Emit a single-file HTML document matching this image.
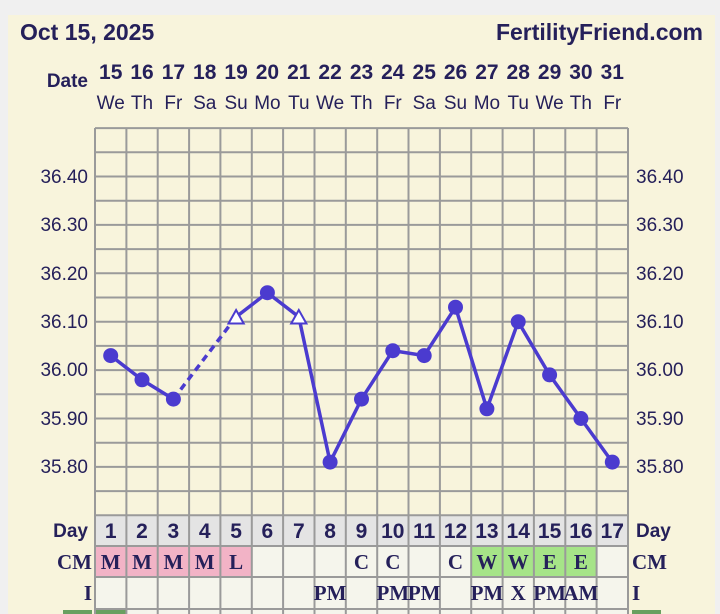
<!DOCTYPE html>
<html><head><meta charset="utf-8"><style>
html,body{margin:0;padding:0;background:#f0f0f0;width:720px;height:614px;overflow:hidden}
svg{display:block}
text{fill:#25205a;font-family:"Liberation Sans",sans-serif}
.s{font-family:"Liberation Serif",serif;font-weight:bold;font-size:21px}
</style></head><body>
<svg width="720" height="614" xmlns="http://www.w3.org/2000/svg">
<rect x="8" y="15" width="707" height="600" fill="#f8f4dc"/>
<text x="20" y="40" font-size="23" font-weight="bold">Oct 15, 2025</text>
<text x="703" y="40" font-size="23" font-weight="bold" text-anchor="end">FertilityFriend.com</text>
<text x="88" y="87" font-size="19" font-weight="bold" text-anchor="end">Date</text>
<g font-size="21" font-weight="bold" text-anchor="middle">
<text x="110.7" y="79">15</text><text x="142" y="79">16</text><text x="173.4" y="79">17</text><text x="204.7" y="79">18</text><text x="236.1" y="79">19</text><text x="267.4" y="79">20</text><text x="298.8" y="79">21</text><text x="330.1" y="79">22</text><text x="361.5" y="79">23</text><text x="392.8" y="79">24</text><text x="424.2" y="79">25</text><text x="455.5" y="79">26</text><text x="486.9" y="79">27</text><text x="518.2" y="79">28</text><text x="549.6" y="79">29</text><text x="580.9" y="79">30</text><text x="612.3" y="79">31</text>
</g>
<g font-size="19" text-anchor="middle">
<text x="110.7" y="109">We</text><text x="142" y="109">Th</text><text x="173.4" y="109">Fr</text><text x="204.7" y="109">Sa</text><text x="236.1" y="109">Su</text><text x="267.4" y="109">Mo</text><text x="298.8" y="109">Tu</text><text x="330.1" y="109">We</text><text x="361.5" y="109">Th</text><text x="392.8" y="109">Fr</text><text x="424.2" y="109">Sa</text><text x="455.5" y="109">Su</text><text x="486.9" y="109">Mo</text><text x="518.2" y="109">Tu</text><text x="549.6" y="109">We</text><text x="580.9" y="109">Th</text><text x="612.3" y="109">Fr</text>
</g>
<g font-size="19">
<g text-anchor="end">
<text x="88" y="183">36.40</text><text x="88" y="231">36.30</text><text x="88" y="280">36.20</text><text x="88" y="328">36.10</text><text x="88" y="376">36.00</text><text x="88" y="425">35.90</text><text x="88" y="473">35.80</text>
</g>
<text x="636" y="183">36.40</text><text x="636" y="231">36.30</text><text x="636" y="280">36.20</text><text x="636" y="328">36.10</text><text x="636" y="376">36.00</text><text x="636" y="425">35.90</text><text x="636" y="473">35.80</text>
</g>
<rect x="95" y="515" width="533" height="31" fill="#e4e4e4"/>
<rect x="95" y="546" width="533" height="68" fill="#f5f5ec"/>
<rect x="95" y="546" width="156.8" height="31" fill="#f2b3c6"/>
<rect x="471.2" y="546" width="125.4" height="31" fill="#a6e488"/>
<rect x="95" y="609" width="31" height="6" fill="#6aa060"/>
<rect x="63" y="610" width="29" height="5" fill="#6aa060"/>
<rect x="632" y="610" width="29" height="5" fill="#6aa060"/>
<g stroke="#9a9a9a" stroke-width="2">
<path d="M95 128.1H628M95 152.3H628M95 176.5H628M95 200.7H628M95 224.9H628M95 249.1H628M95 273.3H628M95 297.5H628M95 321.7H628M95 345.9H628M95 370.1H628M95 394.3H628M95 418.5H628M95 442.7H628M95 466.9H628M95 491.1H628M95 515.3H628M95 546H628M95 577H628M95 609H628"/>
<path d="M95 128V614M126.4 128V614M157.7 128V614M189.1 128V614M220.4 128V614M251.8 128V614M283.1 128V614M314.5 128V614M345.8 128V614M377.2 128V614M408.5 128V614M439.9 128V614M471.2 128V614M502.6 128V614M533.9 128V614M565.3 128V614M596.6 128V614M628 128V614"/>
</g>
<g font-size="19" font-weight="bold">
<text x="88" y="537" text-anchor="end">Day</text><text x="636" y="537">Day</text>
</g>
<g font-size="21" font-weight="bold" text-anchor="middle">
<text x="110.7" y="538">1</text><text x="142" y="538">2</text><text x="173.4" y="538">3</text><text x="204.7" y="538">4</text><text x="236.1" y="538">5</text><text x="267.4" y="538">6</text><text x="298.8" y="538">7</text><text x="330.1" y="538">8</text><text x="361.5" y="538">9</text><text x="392.8" y="538">10</text><text x="424.2" y="538">11</text><text x="455.5" y="538">12</text><text x="486.9" y="538">13</text><text x="518.2" y="538">14</text><text x="549.6" y="538">15</text><text x="580.9" y="538">16</text><text x="612.3" y="538">17</text>
</g>
<text class="s" x="92" y="569" text-anchor="end">CM</text><text class="s" x="632" y="569">CM</text>
<text class="s" x="92" y="600" text-anchor="end">I</text><text class="s" x="632" y="600">I</text>
<g text-anchor="middle">
<text class="s" x="110.7" y="569">M</text><text class="s" x="142" y="569">M</text><text class="s" x="173.4" y="569">M</text><text class="s" x="204.7" y="569">M</text><text class="s" x="236.1" y="569">L</text><text class="s" x="361.5" y="569">C</text><text class="s" x="392.8" y="569">C</text><text class="s" x="455.5" y="569">C</text><text class="s" x="486.9" y="569">W</text><text class="s" x="518.2" y="569">W</text><text class="s" x="549.6" y="569">E</text><text class="s" x="580.9" y="569">E</text>
<text class="s" x="330.1" y="600">PM</text><text class="s" x="392.8" y="600">PM</text><text class="s" x="424.2" y="600">PM</text><text class="s" x="486.9" y="600">PM</text><text class="s" x="518.2" y="600">X</text><text class="s" x="549.6" y="600">PM</text><text class="s" x="580.9" y="600">AM</text>
</g>
<g stroke="#4b3bcf" stroke-width="3.5" fill="none">
<polyline points="110.7,355.6 142,379.8 173.4,399.1"/>
<line x1="173.4" y1="399.1" x2="236.1" y2="316.9" stroke-dasharray="7,5"/>
<polyline points="236.1,316.9 267.4,292.7 298.8,316.9 330.1,462.1 361.5,399.1 392.8,350.7 424.2,355.6 455.5,307.2 486.9,408.8 518.2,321.7 549.6,374.9 580.9,418.5 612.3,462.1"/>
</g>
<g fill="#4b3bcf">
<circle cx="110.7" cy="355.6" r="7.5"/><circle cx="142" cy="379.8" r="7.5"/><circle cx="173.4" cy="399.1" r="7.5"/><circle cx="267.4" cy="292.7" r="7.5"/><circle cx="330.1" cy="462.1" r="7.5"/><circle cx="361.5" cy="399.1" r="7.5"/><circle cx="392.8" cy="350.7" r="7.5"/><circle cx="424.2" cy="355.6" r="7.5"/><circle cx="455.5" cy="307.2" r="7.5"/><circle cx="486.9" cy="408.8" r="7.5"/><circle cx="518.2" cy="321.7" r="7.5"/><circle cx="549.6" cy="374.9" r="7.5"/><circle cx="580.9" cy="418.5" r="7.5"/><circle cx="612.3" cy="462.1" r="7.5"/>
</g>
<g fill="#fff" stroke="#4b3bcf" stroke-width="2">
<polygon points="236.1,310 228.5,323.5 243.7,323.5"/>
<polygon points="298.8,310 291.2,323.5 306.4,323.5"/>
</g>
</svg>
</body></html>
